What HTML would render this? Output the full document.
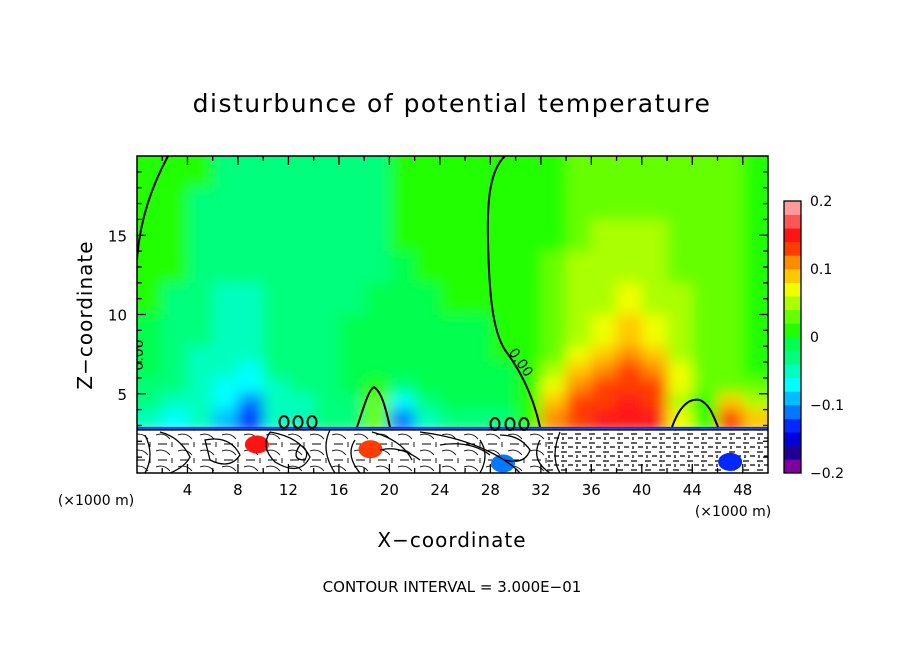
<!DOCTYPE html>
<html><head><meta charset="utf-8">
<style>
html,body{margin:0;padding:0;background:#fff;}
svg text{font-family:"DejaVu Sans","Liberation Sans",sans-serif;fill:#000;}
</style></head>
<body>
<svg id="chart" width="904" height="654" viewBox="0 0 904 654" xmlns="http://www.w3.org/2000/svg">
<defs>
<clipPath id="plotClip"><rect x="137" y="156" width="631" height="317"/></clipPath>
<filter id="soft" filterUnits="userSpaceOnUse" x="100" y="120" width="710" height="380"><feGaussianBlur stdDeviation="7"/></filter>
<pattern id="dashes" width="14" height="9" patternUnits="userSpaceOnUse">
<path d="M1 2 h6 M8 6 h5 M3 8 v-3" stroke="#000" stroke-width="1.3" fill="none"/>
</pattern>
<pattern id="thin" width="22" height="16" patternUnits="userSpaceOnUse">
<path d="M2 3 q8 -3 14 4 M4 12 h9 M18 10 v5" stroke="#000" stroke-width="0.9" fill="none"/>
</pattern>
</defs>
<rect x="0" y="0" width="904" height="654" fill="#fff"/>
<text x="452" y="112" font-size="25" text-anchor="middle" letter-spacing="1.5">disturbunce of potential temperature</text>
<g id="field" clip-path="url(#plotClip)"><g id="cells" filter="url(#soft)"></g></g>
<g id="overlay" clip-path="url(#plotClip)"></g>
<rect x="137" y="156" width="631" height="317" fill="none" stroke="#000" stroke-width="1.5"/>
<g id="axes"></g>
<g id="colorbar"></g>
<text transform="translate(92,315) rotate(-90)" font-size="20" text-anchor="middle" letter-spacing="1">Z−coordinate</text>
<text x="452" y="547" font-size="20" text-anchor="middle" letter-spacing="1">X−coordinate</text>
<text x="96" y="505" font-size="14" text-anchor="middle">(×1000 m)</text>
<text x="733" y="516" font-size="14" text-anchor="middle">(×1000 m)</text>
<text x="452" y="592" font-size="15" text-anchor="middle">CONTOUR INTERVAL = 3.000E−01</text>
</svg>
<script>
// ---- data ----
const xCenters = [1,3,5,7,9,11,13,15,17,19,21,23,25,27,29,31,33,35,37,39,41,43,45,47,49];
const zBottoms = [18,16,14,12,10,8,7,6,5,4,3];
const zTops    = [20,18,16,14,12,10,8,7,6,5,4];
const row18 = [.01,.01,.01,-.03,-.03,-.03,-.03,-.03,-.03,-.03,.01,.01,.01,.01,.01,.01,.01,.03,.03,.03,.03,.03,.03,.03,.01];
const row16 = [.01,.01,-.03,-.03,-.03,-.03,-.03,-.03,-.03,-.03,.01,.01,.01,.01,.01,.01,.01,.03,.03,.03,.03,.03,.03,.03,.01];
const row14 = [.01,.01,-.03,-.03,-.03,-.03,-.03,-.03,-.03,-.03,.01,.01,.01,.01,.01,.01,.01,.03,.05,.05,.05,.03,.03,.03,.01];
const row12 = [.01,.01,-.03,-.03,-.03,-.03,-.03,-.03,-.03,-.03,-.01,.01,.01,.01,.01,.01,.03,.05,.05,.05,.05,.03,.03,.03,.01];
const row10 = [.01,-.03,-.03,-.05,-.05,-.03,-.03,-.03,-.03,-.01,-.01,-.01,.01,.01,.01,.01,.03,.05,.05,.07,.05,.05,.03,.03,.01];
const row8  = [-.01,-.03,-.03,-.05,-.05,-.03,-.03,-.03,-.01,-.01,-.01,-.01,-.01,-.01,.01,.01,.03,.05,.07,.09,.07,.05,.03,.03,.01];
const row7  = [-.01,-.03,-.05,-.05,-.05,-.03,-.03,-.03,-.01,-.01,-.01,-.01,-.01,-.01,.01,.01,.03,.07,.09,.11,.09,.05,.03,.03,.01];
const row6  = [-.01,-.03,-.05,-.05,-.07,-.03,-.03,-.03,-.01,-.01,-.01,-.01,-.01,-.01,-.01,.01,.05,.09,.11,.13,.11,.07,.03,.03,.01];
const row5  = [-.03,-.03,-.05,-.07,-.07,-.05,-.03,-.03,-.01,.01,-.03,-.01,-.01,-.01,-.01,.01,.07,.11,.13,.13,.13,.07,.03,.03,.03];
const row4  = [-.03,-.05,-.05,-.07,-.11,-.05,-.05,-.03,-.03,.03,-.07,-.03,-.01,-.01,-.01,.01,.09,.13,.13,.15,.13,.05,.01,.09,.05];
const row3  = [-.05,-.07,-.05,-.09,-.13,-.05,-.05,-.03,-.03,.03,-.11,-.05,-.03,-.03,-.03,.01,.11,.13,.15,.15,.15,.07,.01,.13,.09];
const fieldRows = [row18,row16,row14,row12,row10,row8,row7,row6,row5,row4,row3];
const groundTop = 2.85;
const blobX = [9.5,18.5,29,47];
const blobZ = [1.8,1.5,0.6,0.7];
const blobV = [0.15,0.13,-0.11,-0.13];
const levels = [-0.2,-0.18,-0.16,-0.14,-0.12,-0.1,-0.08,-0.06,-0.04,-0.02,0,0.02,0.04,0.06,0.08,0.1,0.12,0.14,0.16,0.18,0.2];
const palette = ["#7f009f","#1e0096","#0000dc","#0028ff","#0078ff","#00beff","#00ffff","#00ffbe","#00ff7c","#00ff50","#22ff00","#66ff00","#aaff00","#f0ff00","#ffc800","#ff8c00","#ff3c00","#ff1414","#ff5555","#ff9a9a"];
const xTicks = [4,8,12,16,20,24,28,32,36,40,44,48];
const yTicks = [5,10,15];
const cbLabels = ["0.2","0.1","0","−0.1","−0.2"];
const cbLabelVals = [0.2,0.1,0,-0.1,-0.2];

// ---- scales ----
const X0=137, PW=631, XMAX=50, Y0=473, PH=317, ZMAX=20;
const sx = x => X0 + x/XMAX*PW;
const sy = z => Y0 - z/ZMAX*PH;
const cbY = v => 473 - (v+0.2)/0.4*272;
function colorOf(v){let i=Math.floor((v+0.2)/0.02);i=Math.max(0,Math.min(palette.length-1,i));return palette[i];}
const NS="http://www.w3.org/2000/svg";
function mk(tag,attrs,parent){const e=document.createElementNS(NS,tag);for(const k in attrs)e.setAttribute(k,attrs[k]);parent.appendChild(e);return e;}

// ---- heatmap cells ----
const cells=document.getElementById('cells');
fieldRows.forEach((row,ri)=>{
  row.forEach((v,ci)=>{
    let x1=sx(xCenters[ci]-1), x2=sx(xCenters[ci]+1);
    let y1=sy(zTops[ri]), y2=sy(zBottoms[ri]);
    if(ci===0)x1-=30; if(ci===row.length-1)x2+=30; if(ri===0)y1-=30;
    if(ri===fieldRows.length-1)y2+=6;
    const r=mk('rect',{x:x1,y:y1,width:x2-x1+0.5,height:y2-y1+0.5,fill:colorOf(v)},cells);
    
    
  });
});

// ---- ground region & overlay ----
const ov=document.getElementById('overlay');
const g1=mk('rect',{x:X0,y:sy(groundTop),width:PW,height:Y0-sy(groundTop),fill:'#fff'},ov);


const g3=mk('rect',{x:X0,y:sy(groundTop)+3,width:sx(32.5)-X0,height:Y0-sy(groundTop)-3,fill:'url(#thin)'},ov);


const g2=mk('rect',{x:sx(32.5),y:sy(groundTop)+3,width:sx(50)-sx(32.5),height:Y0-sy(groundTop)-3,fill:'url(#dashes)'},ov);


blobX.forEach((bx,i)=>{
  const b=mk('ellipse',{cx:sx(bx),cy:sy(blobZ[i]),rx:12,ry:9,fill:colorOf(blobV[i])},ov);
  
  
});
const gl=mk('path',{d:`M${X0} ${sy(groundTop)} H${X0+PW}`,stroke:'#0030ff',"stroke-width":2,fill:'none'},ov);


const gl2=mk('path',{d:`M${X0} ${sy(groundTop)+2} H${X0+PW}`,stroke:'#000',"stroke-width":1.5,fill:'none'},ov);


const loopD=[
 "M145 435 q10 20 0 38 M160 432 q20 5 30 25 q-5 10 -20 16 M205 440 q25 -5 35 15 q-10 15 -30 5 z",
 "M270 432 q30 5 40 25 q-10 20 -35 5 q-15 -15 -5 -30 M300 445 q10 5 5 15 q-15 0 -5 -15",
 "M330 430 q-10 20 5 43 M355 440 q-10 15 5 33 M372 432 q30 8 40 28 M380 450 q20 -5 40 10",
 "M420 432 q40 5 70 20 q20 10 30 21 M440 445 q30 -5 50 10 M480 440 q10 15 0 33",
 "M500 435 q20 0 30 15 q-5 15 -25 10 M540 440 q-10 20 10 33 M560 432 q-10 25 0 41"
];
loopD.forEach(d=>{
  const p=mk('path',{d:d,stroke:'#000',"stroke-width":1.3,fill:'none'},ov);
  
  
});
const zc=[
 "M168 156 C155 180 140 215 137 260",
 "M505 156 C490 170 487 200 488 240 C489 290 492 330 505 350 C520 370 533 395 540 427",
 "M357 427 C363 410 368 390 374 387 C382 392 386 410 390 427",
 "M672 427 C680 405 690 398 700 400 C710 405 713 415 718 427"
];
zc.forEach(d=>{
  const p=mk('path',{d:d,stroke:'#000',"stroke-width":2,fill:'none'},ov);
  
  
});
[[284,422],[298,422],[312,422],[495,424],[510,424],[524,424]].forEach(c=>{
  const e=mk('ellipse',{cx:c[0],cy:c[1],rx:4.5,ry:6,stroke:'#000',"stroke-width":2,fill:'none'},ov);
  
  
});
const l1=mk('text',{x:0,y:0,"font-size":14,transform:'translate(143,355) rotate(-90)',"text-anchor":"middle"},ov);
l1.textContent='0.00';


const l2=mk('text',{x:0,y:0,"font-size":14,transform:'translate(517,365) rotate(55)',"text-anchor":"middle"},ov);
l2.textContent='0.00';



// ---- axes ----
const ax=document.getElementById('axes');
for(let x=2;x<50;x+=2){
  const len=(x%4===0)?9:5;
  const t1=mk('line',{x1:sx(x),x2:sx(x),y1:Y0,y2:Y0-len,stroke:'#000',"stroke-width":1.3},ax);
  
  
  const t2=mk('line',{x1:sx(x),x2:sx(x),y1:156,y2:156+len,stroke:'#000',"stroke-width":1.3},ax);
  
  
}
for(let z=1;z<20;z++){
  const len=(z%5===0)?9:5;
  const t1=mk('line',{x1:X0,x2:X0+len,y1:sy(z),y2:sy(z),stroke:'#000',"stroke-width":1.3},ax);
  
  
  const t2=mk('line',{x1:X0+PW,x2:X0+PW-len,y1:sy(z),y2:sy(z),stroke:'#000',"stroke-width":1.3},ax);
  
  
}
xTicks.forEach(x=>{
  const t=mk('text',{x:sx(x),y:495,"font-size":15,"text-anchor":"middle"},ax);
  t.textContent=String(x);
  
  
});
yTicks.forEach(z=>{
  const t=mk('text',{x:127,y:sy(z)+6,"font-size":15,"text-anchor":"end"},ax);
  t.textContent=String(z);
  
  
});

// ---- colorbar ----
const cb=document.getElementById('colorbar');
palette.forEach((c,i)=>{
  const y1=cbY(levels[i+1]), y2=cbY(levels[i]);
  const r=mk('rect',{x:784,y:y1,width:17,height:y2-y1+0.3,fill:c},cb);
  
  
});
const cf=mk('rect',{x:784,y:201,width:17,height:272,fill:'none',stroke:'#000',"stroke-width":1.3},cb);


cbLabels.forEach((s,i)=>{
  const t=mk('text',{x:810,y:cbY(cbLabelVals[i])+5,"font-size":14},cb);
  t.textContent=s;
  
  
});
</script>
</body></html>
